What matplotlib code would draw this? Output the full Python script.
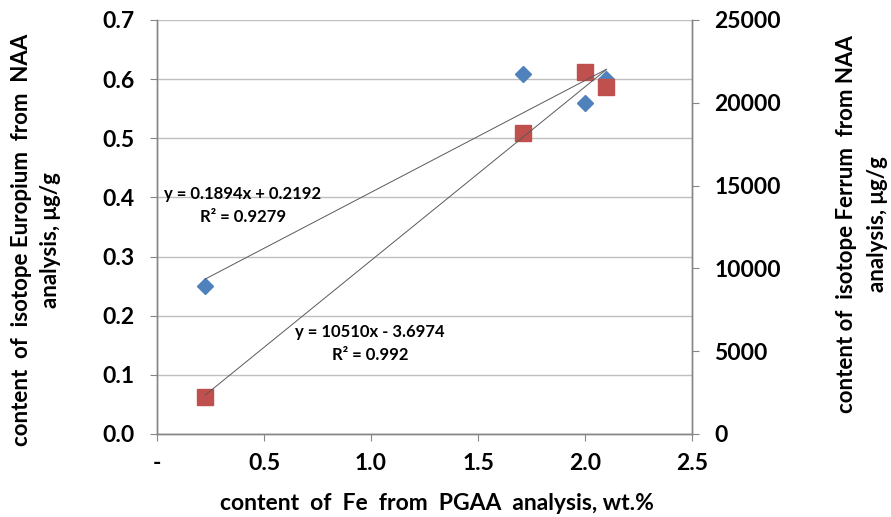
import numpy as np
import matplotlib
matplotlib.use("Agg")
import matplotlib.pyplot as plt
from matplotlib.ticker import FixedLocator, FuncFormatter

plt.rcParams['font.family'] = ['Lato', 'DejaVu Sans']
plt.rcParams['font.weight'] = 'bold'

# Data
fe_pgaa = [0.224, 1.71, 2.0, 2.10]
eu_naa = [0.250, 0.609, 0.560, 0.600]
fe_pgaa_2 = [0.224, 1.71, 2.0, 2.10]
fe_naa = [2236, 18180, 21860, 20960]

eu_label = ["y = 0.1894x + 0.2192", "R² = 0.9279"]
fe_label = ["y = 10510x - 3.6974", "R² = 0.992"]

x_ticks = [0, 0.5, 1.0, 1.5, 2.0, 2.5]
x_tick_labels = ["-", "0.5", "1.0", "1.5", "2.0", "2.5"]
left_ticks = [0.0, 0.1, 0.2, 0.3, 0.4, 0.5, 0.6, 0.7]
right_ticks = [0, 5000, 10000, 15000, 20000, 25000]

blue = "#4F81BD"
red = "#C0504D"
spine_c = "#868686"
grid_c = "#BFBFBF"
trend_c = "#595959"

fig = plt.figure(figsize=(8.91, 5.17), dpi=100)
ax = fig.add_axes([157/891, 1-434/517, (692-157)/891, (434-20)/517])
ax2 = ax.twinx()

ax.set_xlim(0, 2.5)
ax.set_ylim(0, 0.7)
ax2.set_ylim(0, 25000)

ax.yaxis.set_major_locator(FixedLocator(left_ticks))
ax.yaxis.set_major_formatter(FuncFormatter(lambda v, p: f"{v:.1f}"))
ax.xaxis.set_major_locator(FixedLocator(x_ticks))
ax.set_xticklabels(x_tick_labels)
ax2.yaxis.set_major_locator(FixedLocator(right_ticks))
ax2.yaxis.set_major_formatter(FuncFormatter(lambda v, p: f"{int(v)}"))

ax.grid(axis='y', color=grid_c, linewidth=1.0)
ax.set_axisbelow(True)

for a in (ax, ax2):
    for s in a.spines.values():
        s.set_color(spine_c)
        s.set_linewidth(1.0)
    a.spines['top'].set_visible(False)

ax.tick_params(axis='y', direction='out', length=5, color=spine_c, labelsize=16.5, pad=11)
ax.tick_params(axis='x', direction='out', length=5, color=spine_c, labelsize=16.5, pad=9)
ax2.tick_params(axis='y', direction='out', length=5, color=spine_c, labelsize=16.5, pad=11)
for lab in ax.get_xticklabels() + ax.get_yticklabels() + ax2.get_yticklabels():
    lab.set_fontweight('bold')

# Eu series and trendline (left axis)
ax.plot(fe_pgaa, eu_naa, linestyle='none', marker='D', markersize=8,
        color=blue, zorder=3)
p1 = np.polyfit(fe_pgaa, eu_naa, 1)
xx1 = np.array([min(fe_pgaa), max(fe_pgaa)])

# Fe series and trendline (right axis)
ax2.plot(fe_pgaa_2, fe_naa, linestyle='none', marker='s', markersize=11,
         color=red, zorder=3)
p2 = np.polyfit(fe_pgaa_2, fe_naa, 1)
xx2 = np.array([min(fe_pgaa_2), max(fe_pgaa_2)])
ax2.plot(xx2, np.polyval(p2, xx2), color=trend_c, linewidth=0.7, zorder=4)
ax2.plot(xx1, np.polyval(p1, xx1) / 0.7 * 25000, color=trend_c, linewidth=0.7, zorder=4)

# Trendline labels
fs = 12
ax.text(0.40, 0.406, eu_label[0], ha='center', va='center', fontsize=fs, fontweight='bold')
ax.text(0.40, 0.367, eu_label[1], ha='center', va='center', fontsize=fs, fontweight='bold')
ax.text(0.995, 0.172, fe_label[0], ha='center', va='center', fontsize=fs, fontweight='bold')
ax.text(0.995, 0.134, fe_label[1], ha='center', va='center', fontsize=fs, fontweight='bold')

# Axis titles
fig.text(437/891, 1-504/517, "content  of  Fe  from  PGAA  analysis, wt.%",
         ha='center', va='center', fontsize=16.5, fontweight='bold')
fig.text(36/891, 1-240/517, "content  of  isotope Europium  from  NAA\nanalysis, μg/g",
         ha='center', va='center', rotation=90, fontsize=16, fontweight='bold',
         linespacing=1.45, multialignment='center')
fig.text(862/891, 1-224/517, "content of  isotope Ferrum  from NAA\nanalysis, μg/g",
         ha='center', va='center', rotation=90, fontsize=16, fontweight='bold',
         linespacing=1.55, multialignment='center')

fig.savefig("out.png", dpi=100)
